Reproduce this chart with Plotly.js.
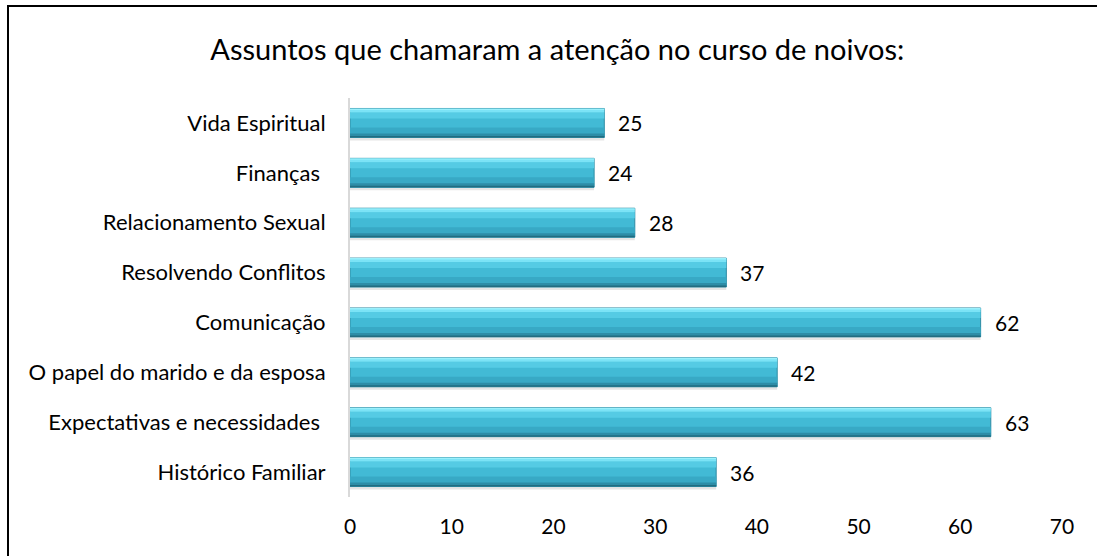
<!DOCTYPE html>
<html><head><meta charset="utf-8">
<script src="https://cdn.plot.ly/plotly-3.0.1.min.js"></script>
<style>html,body{margin:0;padding:0;background:#fff;overflow:hidden;width:1097px;height:556px}
.ln{position:absolute;background:#000;pointer-events:none}</style>
</head><body>
<div id="chart" style="position:absolute;left:0;top:0;width:1097px;height:556px"></div>
<div class="ln" style="left:7px;top:5px;width:2px;height:551px"></div>
<div class="ln" style="left:7px;top:5px;width:1090px;height:2px"></div>
<script>
const categories = ["Histórico Familiar", "Expectativas e necessidades ", "O papel do marido e da esposa", "Comunicação", "Resolvendo Conflitos", "Relacionamento Sexual", "Finanças ", "Vida Espiritual"];
const values = [36, 63, 42, 62, 37, 28, 24, 25];
const xTicks = [0, 10, 20, 30, 40, 50, 60, 70];
const titleText = "Assuntos que chamaram a atenção no curso de noivos:";

const FONT = "Lato, 'Open Sans', sans-serif";
const BW = 0.58;
function layer(color, offset, width, line) {
  return {type: 'bar', orientation: 'h', x: values, y: categories,
    width: width, offset: offset,
    marker: {color: color, line: line || {width: 0}},
    hoverinfo: 'skip', showlegend: false};
}
const traces = [
  layer('rgba(0,0,0,0.10)', -BW/2 - 0.06, BW),
  layer('#42BAD5', -BW/2, BW, {color: '#2E8BA3', width: 1}),
  layer('#38A9C5', -BW/2, 0.2),
  layer('#2D8DA7', -BW/2, 0.08),
  layer('#226C80', -BW/2, 0.03),
  layer('#55CBE4', BW/2 - 0.2, 0.12),
  layer('#7BE3F6', BW/2 - 0.08, 0.06),
  layer('#9AF0FC', BW/2 - 0.03, 0.03)
];
const annotations = values.map((v, i) => ({
  x: v, y: categories[i], xref: 'x', yref: 'y', text: String(v),
  showarrow: false, xanchor: 'left', xshift: 12, font: {family: FONT, size: 21, color: '#000'}
}));
const layout = {
  width: 1097, height: 556,
  margin: {l: 350, r: 35, t: 98, b: 59},
  paper_bgcolor: '#fff', plot_bgcolor: '#fff',
  barmode: 'overlay',
  font: {family: FONT, size: 21, color: '#000'},
  title: {text: titleText, x: 0.508, xref: 'container', y: 0.91, yref: 'container', yanchor: 'middle', xanchor: 'center',
    font: {family: FONT, size: 29, color: '#000'}},
  xaxis: {range: [0, 70], tickvals: xTicks, ticktext: xTicks.map(String), showgrid: false, zeroline: false,
    showline: false, ticks: '', ticklabelstandoff: 15, fixedrange: true},
  yaxis: {type: 'category', categoryorder: 'array', categoryarray: categories, range: [-0.5, 7.5],
    showline: true, linecolor: '#D9D9D9', linewidth: 2, showgrid: false, zeroline: false, ticks: '',
    ticklabelstandoff: 18, tickfont: {family: FONT, size: 22, color: '#000'}, fixedrange: true},
  annotations: annotations
};
Plotly.newPlot('chart', traces, layout, {displayModeBar: false, staticPlot: true});
</script>
</body></html>
